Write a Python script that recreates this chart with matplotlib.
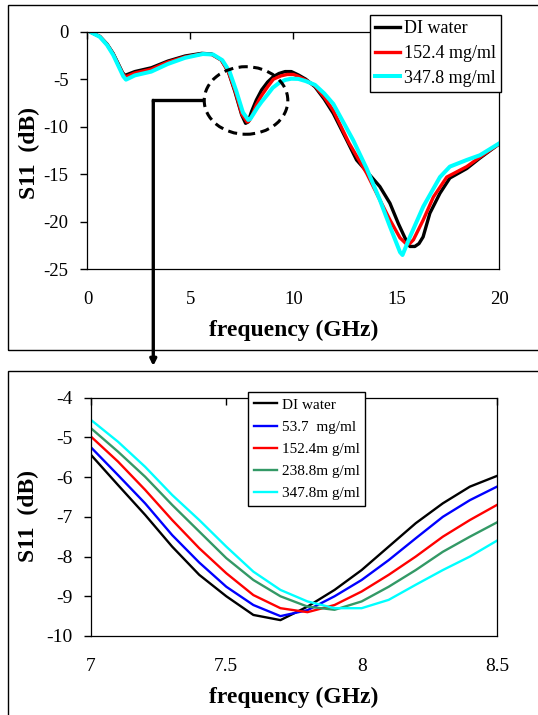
import numpy as np
import matplotlib
matplotlib.use('Agg')
import matplotlib.pyplot as plt
from matplotlib.patches import Ellipse, Rectangle

plt.rcParams['font.family'] = ['Liberation Serif', 'DejaVu Serif']
plt.rcParams['axes.unicode_minus'] = False

# ---- top panel data (0-20 GHz) ----
f_di = [0.2, 0.6, 0.95, 1.25, 1.5, 1.7, 1.82, 2.3, 3.1, 3.9, 4.74, 5.55, 6.03, 6.5, 6.84, 7.16, 7.49, 7.68,
        7.8, 7.97, 8.2, 8.46, 8.75, 9.03, 9.3, 9.6, 9.9, 10.24, 10.6, 11.05, 11.5, 11.94, 12.59, 13.07, 13.64,
        14.2, 14.69, 15.1, 15.42, 15.66, 15.9, 16.1, 16.3, 16.63, 17.12, 17.6, 18.42, 19.06, 20.0]
s_di = [-0.1, -0.5, -1.3, -2.3, -3.4, -4.3, -4.6, -4.2, -3.8, -3.1, -2.56, -2.28, -2.35, -2.98, -4.2, -6.3,
        -8.76, -9.64, -9.5, -8.4, -7.2, -6.13, -5.3, -4.73, -4.4, -4.2, -4.2, -4.55, -5.0, -5.8, -7.1, -8.6,
        -11.4, -13.5, -14.9, -16.3, -18.05, -20.2, -21.7, -22.6, -22.6, -22.3, -21.6, -19.1, -17.0, -15.4,
        -14.4, -13.3, -11.8]

f_152 = [0.2, 0.6, 0.95, 1.25, 1.5, 1.72, 1.85, 2.3, 3.1, 3.9, 4.74, 5.55, 6.03, 6.5, 6.84, 7.18, 7.5, 7.75,
         7.85, 8.0, 8.2, 8.46, 8.75, 9.03, 9.4, 9.7, 10.0, 10.24, 10.6, 11.05, 11.5, 11.94, 12.7, 13.56,
         14.2, 14.69, 15.18, 15.47, 15.65, 15.83, 16.31, 16.8, 17.45, 18.42, 19.06, 20.0]
s_152 = [-0.1, -0.5, -1.35, -2.35, -3.5, -4.45, -4.75, -4.35, -3.95, -3.2, -2.65, -2.35, -2.4, -3.0, -4.2,
         -6.3, -8.7, -9.5, -9.4, -8.8, -7.7, -6.7, -5.8, -5.0, -4.65, -4.5, -4.5, -4.7, -5.1, -5.7, -6.9,
         -8.3, -11.7, -14.9, -17.7, -19.8, -21.7, -22.3, -22.3, -21.9, -19.8, -17.4, -15.3, -14.2, -13.2,
         -11.8]

f_348 = [0.2, 0.6, 0.95, 1.25, 1.5, 1.74, 1.87, 2.3, 3.1, 3.9, 4.74, 5.6, 6.1, 6.55, 6.9, 7.22, 7.55, 7.81,
         7.9, 8.05, 8.25, 8.46, 8.75, 9.0, 9.3, 9.6, 9.9, 10.24, 10.6, 11.05, 11.5, 11.94, 12.9, 13.56,
         14.2, 14.69, 15.18, 15.3, 15.66, 16.31, 17.12, 17.6, 18.42, 19.06, 20.0]
s_348 = [-0.1, -0.55, -1.4, -2.45, -3.6, -4.7, -5.05, -4.6, -4.2, -3.4, -2.75, -2.35, -2.4, -3.0, -4.2, -6.2,
         -8.5, -9.29, -9.2, -8.7, -8.0, -7.37, -6.6, -5.9, -5.4, -5.08, -4.95, -4.97, -5.2, -5.6, -6.5,
         -7.6, -11.4, -14.4, -17.7, -20.5, -23.2, -23.5, -21.6, -18.4, -15.3, -14.2, -13.5, -13.0, -11.75]

# ---- bottom panel data (7-8.5 GHz zoom) ----
f_zoom = [7.0, 7.1, 7.2, 7.3, 7.4, 7.5, 7.6, 7.7, 7.8, 7.9, 8.0, 8.1, 8.2, 8.3, 8.4, 8.5]
z_di = [-5.44, -6.2, -6.95, -7.75, -8.46, -9.0, -9.47, -9.6, -9.26, -8.84, -8.34, -7.75, -7.16, -6.66, -6.24, -5.97]
z_54 = [-5.25, -5.95, -6.66, -7.46, -8.15, -8.76, -9.22, -9.5, -9.35, -9.0, -8.59, -8.09, -7.54, -7.0, -6.58, -6.24]
z_152 = [-4.98, -5.61, -6.32, -7.08, -7.79, -8.42, -8.97, -9.3, -9.4, -9.22, -8.88, -8.46, -8.0, -7.5, -7.08, -6.7]
z_239 = [-4.77, -5.36, -5.99, -6.7, -7.37, -8.04, -8.59, -9.0, -9.26, -9.34, -9.13, -8.76, -8.34, -7.88, -7.5, -7.14]
z_348 = [-4.56, -5.11, -5.74, -6.45, -7.08, -7.75, -8.38, -8.84, -9.13, -9.3, -9.3, -9.09, -8.71, -8.34, -8.0, -7.6]

green = '#339966'

fig = plt.figure(figsize=(5.38, 7.15), dpi=100)

# panel frames
fig.patches.append(Rectangle((0.014, 0.5105), 1.0, 0.4832, transform=fig.transFigure,
                             fill=False, edgecolor='black', lw=1.0))
fig.patches.append(Rectangle((0.014, -0.02), 1.0, 0.5011, transform=fig.transFigure,
                             fill=False, edgecolor='black', lw=1.0))

ax1 = fig.add_axes([0.1626, 0.6234, 0.7654, 0.3323])
ax2 = fig.add_axes([0.1691, 0.1105, 0.7546, 0.3333])

#top plot
ax1.plot(f_di, s_di, color='black', lw=2.4, label='DI water')
ax1.plot(f_152, s_152, color='red', lw=2.4, label='152.4 mg/ml')
ax1.plot(f_348, s_348, color='cyan', lw=2.9, label='347.8 mg/ml')
ax1.set_xlim(0, 20)
ax1.set_ylim(-25, 0)
ax1.set_xticks([0, 5, 10, 15, 20])
ax1.set_yticks([0, -5, -10, -15, -20, -25])
ax1.set_xlabel('frequency (GHz)', fontsize=17, fontweight='bold', va='center')
ax1.set_ylabel('S11  (dB)', fontsize=17, fontweight='bold', va='center')
ax1.xaxis.set_label_coords(0.5, -0.2555)
ax1.yaxis.set_label_coords(-0.142, 0.49)
ax1.legend(loc='upper left', bbox_to_anchor=(369.6 / 538, 1 - 15 / 715), bbox_transform=fig.transFigure,
           fontsize=13, frameon=True, fancybox=False, edgecolor='black', framealpha=1,
           borderaxespad=0, borderpad=0.3, labelspacing=0.42, handlelength=1.4, handletextpad=0.2)

ell = Ellipse((7.7, -7.24), 4.06, 7.11, fill=False, edgecolor='black', lw=2.2,
              linestyle=(0, (3, 1.8)), zorder=4)
ax1.add_patch(ell)
ax1.plot([5.62, 3.196], [-7.24, -7.24], color='black', lw=2.4, solid_joinstyle='miter', zorder=4)

#bottom plot
ax2.plot(f_zoom, z_di, color='black', lw=1.7, label='DI water')
ax2.plot(f_zoom, z_54, color='blue', lw=1.7, label='53.7  mg/ml')
ax2.plot(f_zoom, z_152, color='red', lw=1.7, label='152.4m g/ml')
ax2.plot(f_zoom, z_239, color=green, lw=1.7, label='238.8m g/ml')
ax2.plot(f_zoom, z_348, color='cyan', lw=1.7, label='347.8m g/ml')
ax2.set_xlim(7, 8.5)
ax2.set_ylim(-10, -4)
ax2.set_xticks([7, 7.5, 8, 8.5])
ax2.set_xticklabels(['7', '7.5', '8', '8.5'])
ax2.set_yticks([-4, -5, -6, -7, -8, -9, -10])
ax2.set_xlabel('frequency (GHz)', fontsize=17, fontweight='bold', va='center')
ax2.set_ylabel('S11  (dB)', fontsize=17, fontweight='bold', va='center')
ax2.xaxis.set_label_coords(0.5, -0.256)
ax2.yaxis.set_label_coords(-0.153, 0.504)
ax2.legend(loc='upper left', bbox_to_anchor=(248 / 538, 1 - 392.3 / 715), bbox_transform=fig.transFigure,
           fontsize=11, frameon=True, fancybox=False, edgecolor='black', framealpha=1,
           borderaxespad=0, borderpad=0.38, labelspacing=0.55, handlelength=1.5, handletextpad=0.33)

for ax in (ax1, ax2):
    for sp in ax.spines.values():
        sp.set_linewidth(0.9)
        sp.set_color('black')
    ax.tick_params(axis='x', top=True, bottom=False, labeltop=False, labelbottom=True,
                   direction='in', length=5, width=1, pad=16)
    ax.tick_params(axis='y', direction='out', length=5, width=1, pad=8.5, right=False)
    ax.get_legend().set_zorder(6)
ax1.tick_params(labelsize=13.5)
ax2.tick_params(labelsize=14)

# arrow from the circled region down to the zoomed panel
x0, y0 = fig.transFigure.inverted().transform(ax1.transData.transform((3.196, -7.24)))
ax1.annotate('', xy=(x0, 1 - 366 / 715), xycoords='figure fraction',
             xytext=(3.196, -7.24), textcoords='data',
             arrowprops=dict(arrowstyle='-|>', color='black', lw=2.4, shrinkA=0, shrinkB=0,
                             mutation_scale=9), annotation_clip=False, zorder=4)

fig.savefig('out.png', dpi=100)
